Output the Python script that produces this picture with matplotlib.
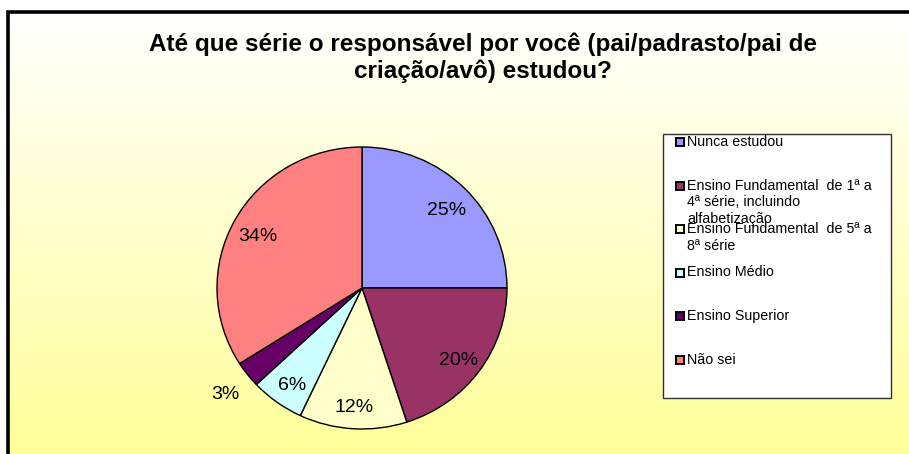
import numpy as np
import matplotlib
matplotlib.use('Agg')
from matplotlib import pyplot as plt  # noqa
from matplotlib.colors import LinearSegmentedColormap
from matplotlib.patches import Rectangle

TITLE = 'Até que série o responsável por você (pai/padrasto/pai de\ncriação/avô) estudou?'
labels = [
    'Nunca estudou',
    'Ensino Fundamental  de 1ª a\n4ª série, incluindo\nalfabetização',
    'Ensino Fundamental  de 5ª a\n8ª série',
    'Ensino Médio',
    'Ensino Superior',
    'Não sei',
]
values = [25, 20, 12, 6, 3, 34]
colors = ['#9999FF', '#993366', '#FFFFCC', '#CCFFFF', '#660066', '#FF8080']

W, H = 909, 454
plt.rcParams['font.family'] = ['Liberation Sans', 'DejaVu Sans']

fig = plt.figure(figsize=(W / 100, H / 100), dpi=100)
fig.patch.set_facecolor('white')

# background: pixel coordinates, y downwards
bg = fig.add_axes([0, 0, 1, 1])
bg.set_xlim(0, W)
bg.set_ylim(H, 0)
bg.axis('off')
grad = LinearSegmentedColormap.from_list('bg', ['#FFFFFF', '#FFFF99'])
bg.imshow(np.linspace(0, 1, 256).reshape(-1, 1), cmap=grad, aspect='auto',
          extent=(7, W + 5, H, 11), zorder=0)
bg.plot([7.5, 7.5, W + 5], [H + 5, 11.5, 11.5], color='black', lw=2.6,
        solid_joinstyle='miter', zorder=1)

bg.text(483, 32, TITLE, ha='center', va='top', fontsize=17.5,
        fontweight='bold', linespacing=1.2)

# pie (the original is slightly squashed vertically)
cx, cy, rx, ry = 362, 288, 145, 141
ax = fig.add_axes([(cx - rx) / W, (H - cy - ry) / H, 2 * rx / W, 2 * ry / H])
wedges, texts, autotexts = ax.pie(
    values, colors=colors, startangle=90, counterclock=False,
    autopct='%d%%', pctdistance=0.82,
    wedgeprops=dict(edgecolor='black', linewidth=1.0),
    textprops=dict(fontsize=14, color='black'))
for i, t in enumerate(autotexts):
    x, y = t.get_position()
    if i == 4:
        # Excel put the 3% label outside the pie
        x, y = x * 1.45, y * 1.45
    t.set_position((x, y - 0.03))
ax.set_aspect('auto')
ax.set_xlim(-1, 1)
ax.set_ylim(-1, 1)

# legend box (entries overlap like in the original)
bg.add_patch(Rectangle((663, 134), 228, 264, facecolor='white',
                       edgecolor='#303030', lw=1.0, zorder=2))
row_y = 142
for lab, col in zip(labels, colors):
    bg.add_patch(Rectangle((676, row_y - 4), 8, 8, facecolor=col,
                           edgecolor='black', lw=1.4, zorder=3))
    bg.text(687, row_y - 7, lab, ha='left', va='top', fontsize=10.3,
            linespacing=1.25, zorder=4)
    row_y += 43.5

fig.savefig('out.png', dpi=100)
